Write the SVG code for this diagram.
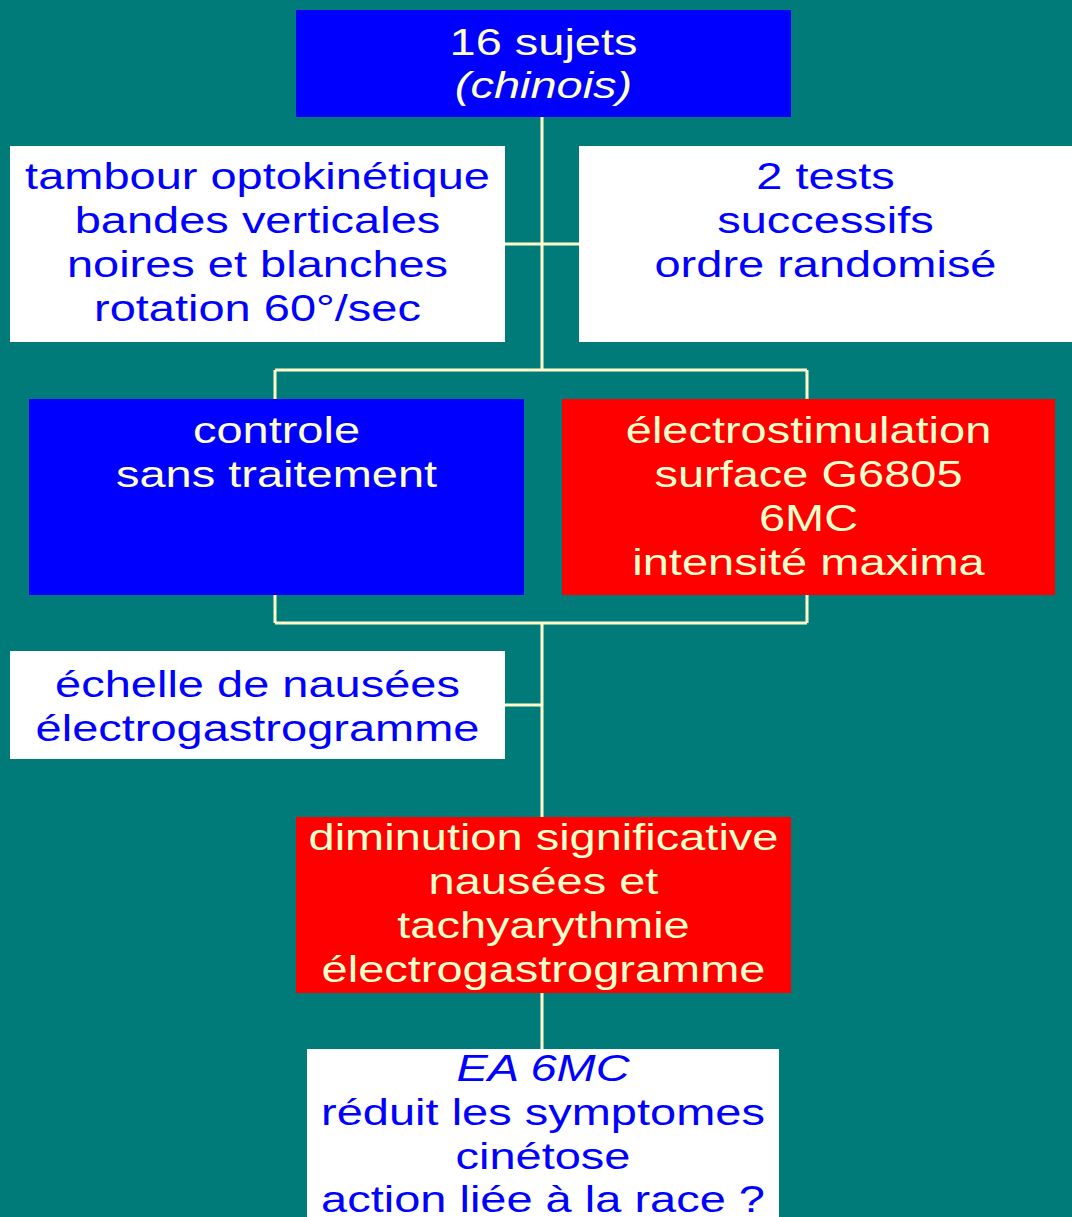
<svg xmlns="http://www.w3.org/2000/svg" width="1072" height="1217" viewBox="0 0 1072 1217">
<style>
.t{font-family:"Liberation Sans",Arial,sans-serif;font-size:36px;text-anchor:middle}
.cream{fill:#ffffcc}
.blue{fill:#0000ff}
.it{font-style:italic}
.ln{stroke:#ffffcc;stroke-width:3;fill:none}
</style>
<rect x="0" y="0" width="1072" height="1217" fill="#017b79"/>
<g id="connectors">
<path class="ln" d="M542,117 V370 M505,244 H579 M275,370 H807 M275,370 V399 M807,370 V399 M275,595 V623 M807,595 V623 M275,623 H807 M542,623 V817 M505,705 H542 M542,993 V1049"/>
</g>
<g id="n_sujets">
<rect x="296" y="10" width="495" height="107" fill="#0000ff"/>
<text class="t cream" transform="translate(543.5,0) scale(1.305,1)"><tspan x="0" y="55">16 sujets</tspan><tspan x="0" y="98" class="it">(chinois)</tspan></text>
</g>
<g id="n_tambour">
<rect x="10" y="146" width="495" height="196" fill="#ffffff"/>
<text class="t blue" transform="translate(257.5,0) scale(1.305,1)"><tspan x="0" y="189">tambour optokinétique</tspan><tspan x="0" y="233">bandes verticales</tspan><tspan x="0" y="277">noires et blanches</tspan><tspan x="0" y="321">rotation 60°/sec</tspan></text>
</g>
<g id="n_tests">
<rect x="579" y="146" width="493" height="196" fill="#ffffff"/>
<text class="t blue" transform="translate(825.5,0) scale(1.305,1)"><tspan x="0" y="189">2 tests</tspan><tspan x="0" y="233">successifs</tspan><tspan x="0" y="277">ordre randomisé</tspan></text>
</g>
<g id="n_controle">
<rect x="29" y="399" width="495" height="196" fill="#0000ff"/>
<text class="t cream" transform="translate(276.5,0) scale(1.305,1)"><tspan x="0" y="443">controle</tspan><tspan x="0" y="487">sans traitement</tspan></text>
</g>
<g id="n_electro">
<rect x="562" y="399" width="493" height="196" fill="#ff0000"/>
<text class="t cream" transform="translate(808.5,0) scale(1.305,1)"><tspan x="0" y="443">électrostimulation</tspan><tspan x="0" y="487">surface G6805</tspan><tspan x="0" y="531">6MC</tspan><tspan x="0" y="575">intensité maxima</tspan></text>
</g>
<g id="n_echelle">
<rect x="10" y="651" width="495" height="108" fill="#ffffff"/>
<text class="t blue" transform="translate(257.5,0) scale(1.305,1)"><tspan x="0" y="697">échelle de nausées</tspan><tspan x="0" y="741">électrogastrogramme</tspan></text>
</g>
<g id="n_diminution">
<rect x="296" y="817" width="495" height="176" fill="#ff0000"/>
<text class="t cream" transform="translate(543.5,0) scale(1.305,1)"><tspan x="0" y="850">diminution significative</tspan><tspan x="0" y="894">nausées et</tspan><tspan x="0" y="938">tachyarythmie</tspan><tspan x="0" y="982">électrogastrogramme</tspan></text>
</g>
<g id="n_ea">
<rect x="307" y="1049" width="472" height="180" fill="#ffffff"/>
<text class="t blue" transform="translate(543,0) scale(1.305,1)"><tspan x="0" y="1081" class="it">EA 6MC</tspan><tspan x="0" y="1125">réduit les symptomes</tspan><tspan x="0" y="1169">cinétose</tspan><tspan x="0" y="1212">action liée à la race ?</tspan></text>
</g>
</svg>
